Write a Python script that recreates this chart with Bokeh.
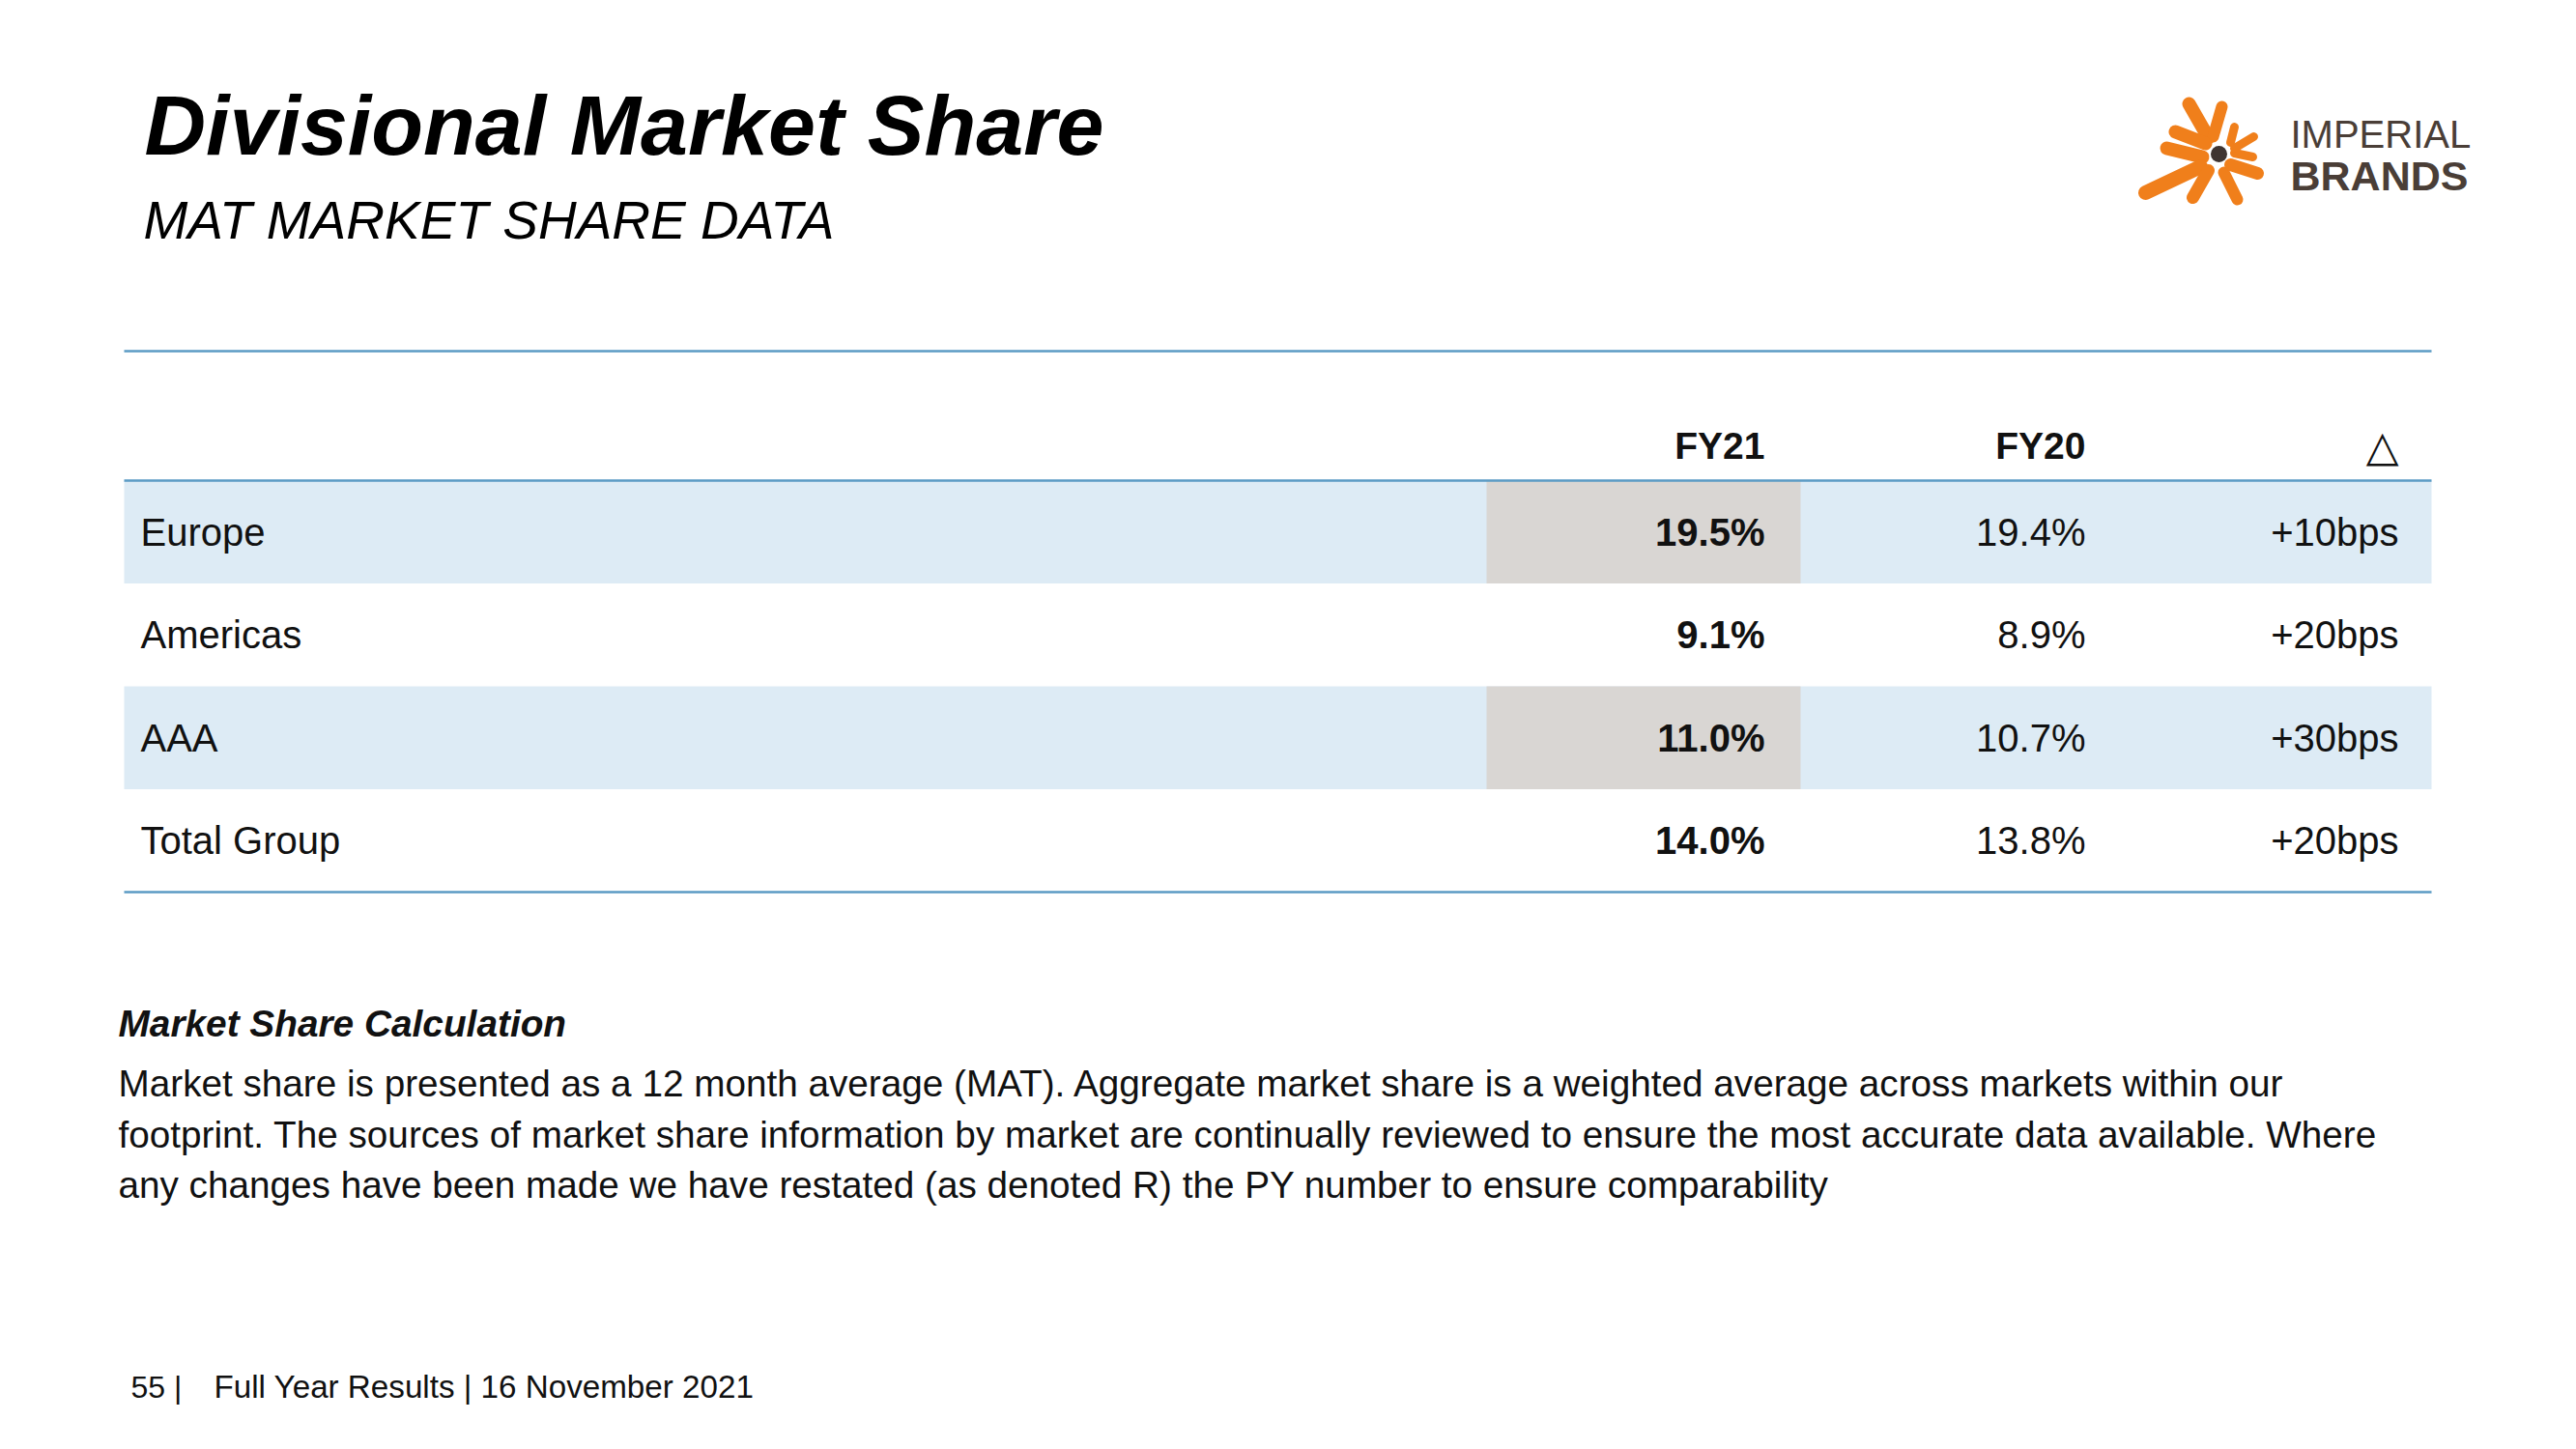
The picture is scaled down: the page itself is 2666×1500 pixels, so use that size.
from bokeh.plotting import figure
from bokeh.models import Range1d, ColumnDataSource
from bokeh.embed import file_html
from bokeh.resources import INLINE
from bokeh.core.properties import value

# ---------------- data ----------------
regions = ["Europe", "Americas", "AAA", "Total Group"]
fy21 = [19.5, 9.1, 11.0, 14.0]
fy20 = [19.4, 8.9, 10.7, 13.8]
delta_bps = [10, 20, 30, 20]
col_headers = ["FY21", "FY20", "\u25b3"]
shaded_rows = [True, False, True, False]

title = "Divisional Market Share"
subtitle = "MAT MARKET SHARE DATA"
note_head = "Market Share Calculation"
note_lines = [
    "Market share is presented as a 12 month average (MAT). Aggregate market share is a weighted average across markets within our",
    "footprint. The sources of market share information by market are continually reviewed to ensure the most accurate data available. Where",
    "any changes have been made we have restated (as denoted R) the PY number to ensure comparability",
]
footer_page = "55 |"
footer_text = "Full Year Results | 16 November 2021"

# ---------------- layout ----------------
W, H = 2650, 1484
p = figure(width=W, height=H, x_range=Range1d(0, W), y_range=Range1d(H, 0),
           output_backend="svg", toolbar_location=None, x_axis_type=None, y_axis_type=None,
           min_border=0, outline_line_color=None, background_fill_color="white",
           border_fill_color="white")
p.grid.visible = False

FONT = value("Liberation Sans")
TXT = "#111111"
BLUE_ROW = "#DDEBF5"
GRAY_CELL = "#D9D6D3"
RULE = "#5B9BC4"

tbl_left, tbl_right = 128, 2516
top_rule, head_rule = 363, 497
row_h = 106.5
n = len(regions)
row_tops = [head_rule + i * row_h for i in range(n)]
row_mid = [t + row_h / 2 for t in row_tops]
bottom_rule = head_rule + n * row_h
fy21_cell = (1538, 1863)
col_right = [1826, 2158, 2482]

# shaded rows
sh_t = [row_tops[i] for i in range(n) if shaded_rows[i]]
p.quad(left=tbl_left, right=tbl_right, top=sh_t, bottom=[t + row_h for t in sh_t],
       fill_color=BLUE_ROW, line_color=None)
p.quad(left=fy21_cell[0], right=fy21_cell[1], top=sh_t, bottom=[t + row_h for t in sh_t],
       fill_color=GRAY_CELL, line_color=None)

# rules
p.segment(x0=tbl_left, x1=tbl_right, y0=[top_rule, head_rule, bottom_rule],
          y1=[top_rule, head_rule, bottom_rule], line_color=RULE, line_width=2.7)

# headers
p.text(x=col_right[:2], y=[461, 461], text=col_headers[:2], text_align="right",
       text_baseline="middle", text_font=FONT, text_font_style="bold",
       text_font_size="39px", text_color=TXT)
p.text(x=[col_right[2]], y=[461], text=[col_headers[2]], text_align="right",
       text_baseline="middle", text_font=value("DejaVu Sans"),
       text_font_size="44px", text_color=TXT)

# rows
src = ColumnDataSource(dict(
    region=regions, y=row_mid,
    a=["%.1f%%" % v for v in fy21],
    b=["%.1f%%" % v for v in fy20],
    d=["+%dbps" % v for v in delta_bps],
))
p.text(x=145, y="y", text="region", source=src, text_align="left", text_baseline="middle",
       text_font=FONT, text_font_size="40px", text_color=TXT)
p.text(x=col_right[0], y="y", text="a", source=src, text_align="right", text_baseline="middle",
       text_font=FONT, text_font_style="bold", text_font_size="40px", text_color=TXT)
p.text(x=col_right[1], y="y", text="b", source=src, text_align="right", text_baseline="middle",
       text_font=FONT, text_font_size="40px", text_color=TXT)
p.text(x=col_right[2], y="y", text="d", source=src, text_align="right", text_baseline="middle",
       text_font=FONT, text_font_size="40px", text_color=TXT)

# title / subtitle
p.text(x=[149], y=[129], text=[title], text_font=FONT, text_font_style="bold italic",
       text_font_size="88px", text_color="#000000", text_baseline="middle")
p.text(x=[148], y=[227], text=[subtitle], text_font=FONT, text_font_style="italic",
       text_font_size="55px", text_color="#000000", text_baseline="middle")

# note
p.text(x=[122], y=[1059], text=[note_head], text_font=FONT, text_font_style="bold italic",
       text_font_size="38.8px", text_color=TXT, text_baseline="middle")
p.text(x=122, y=[1121 + 52.5 * i for i in range(len(note_lines))], text=note_lines,
       text_font=FONT, text_font_size="38.7px", text_color=TXT, text_baseline="middle")

# footer
p.text(x=[135], y=[1435], text=[footer_page], text_font=FONT, text_font_size="32px",
       text_color=TXT, text_baseline="middle")
p.text(x=[221], y=[1435], text=[footer_text], text_font=FONT, text_font_size="33.2px",
       text_color=TXT, text_baseline="middle")

# logo (decoration)
cx, cy = 2296, 159
rays = [  # (outer dx, outer dy, inner dx, inner dy, width)
    (-31, -52, -11, -17, 14),
    (3, -49, -6, -18, 12),
    (-45, -23, -14, -11, 14),
    (-54, -6, -17, 3, 14),
    (-76, 40, -19, 13, 15),
    (-27, 45, -11, 17, 13),
    (19, 47, 5, 19, 12),
    (40, 20, 12, 11, 13),
    (35, 3, 16, -1, 9),
    (36, -18, 16, -6, 9),
    (16, -28, 12, -12, 9),
]
p.segment(x0=[cx + r[0] for r in rays], y0=[cy + r[1] for r in rays],
          x1=[cx + r[2] for r in rays], y1=[cy + r[3] for r in rays],
          line_width=[r[4] for r in rays], line_color="#F07F1B", line_cap="round")
p.scatter(x=[cx], y=[cy], size=17, fill_color="#3E3431", line_color=None)
p.text(x=[2370], y=[138], text=["IMPERIAL"], text_font=FONT, text_font_size="40px",
       text_color="#4A3E37", text_baseline="middle")
p.text(x=[2370], y=[181], text=["BRANDS"], text_font=FONT, text_font_style="bold",
       text_font_size="43px", text_color="#4A3E37", text_baseline="middle")

open("out.html", "w").write(file_html(p, INLINE))
